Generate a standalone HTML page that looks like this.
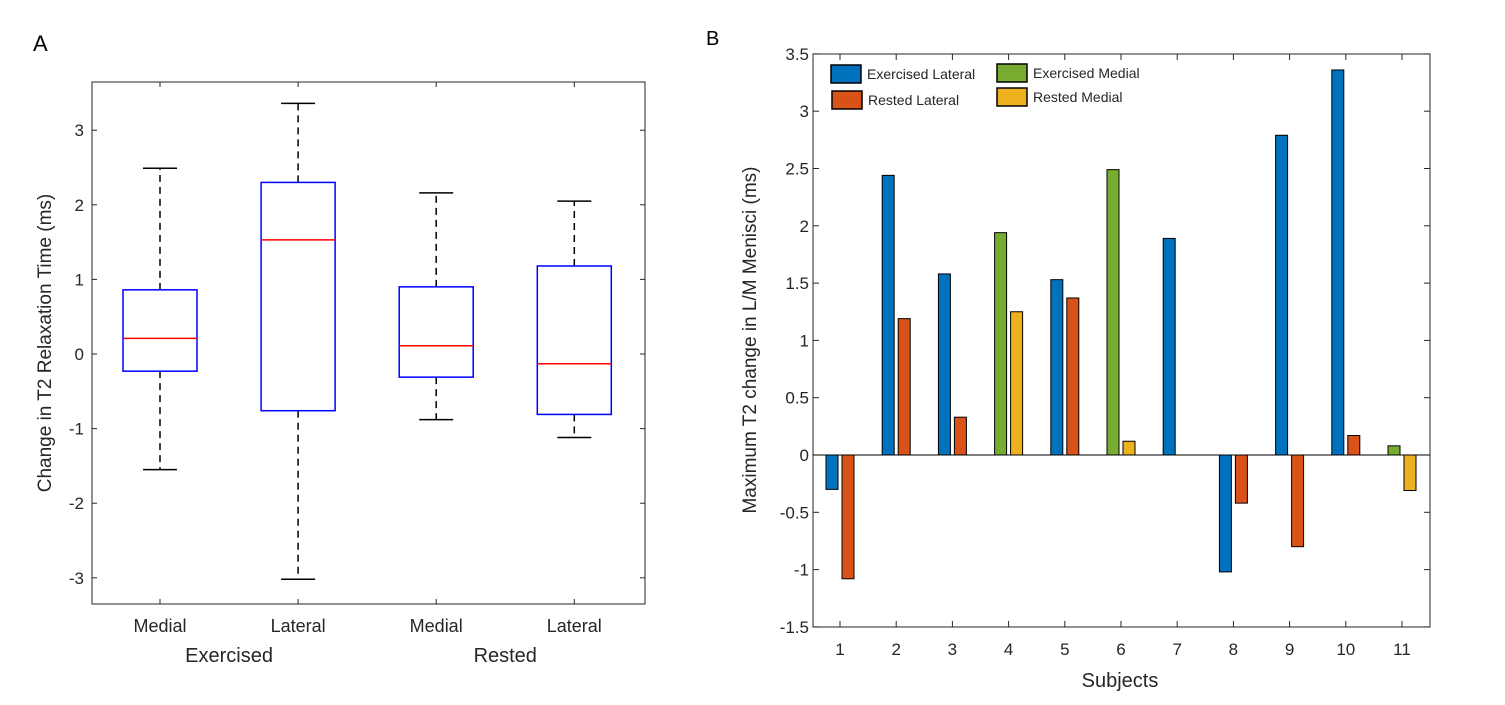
<!DOCTYPE html>
<html><head><meta charset="utf-8"><style>
body{margin:0;background:#fff;}
svg{display:block;font-family:"Liberation Sans",sans-serif;}
</style></head><body>
<svg id="s" width="1505" height="705">
<text x="33" y="51" font-size="22" fill="#000">A</text>
<text x="706" y="45" font-size="20" fill="#000">B</text>
<g id="ga"></g>
<g id="gb"></g>
</svg>
<script>
// Panel A data
const boxCats = ["Medial","Lateral","Medial","Lateral"];
const boxGroups = ["Exercised","Rested"];
const boxQ1 = [-0.23,-0.76,-0.31,-0.81];
const boxMed = [0.21,1.53,0.11,-0.13];
const boxQ3 = [0.86,2.30,0.90,1.18];
const boxLo = [-1.55,-3.02,-0.88,-1.12];
const boxHi = [2.49,3.36,2.16,2.05];
const aTicks = [-3,-2,-1,0,1,2,3];
// Panel B data
const subjects = ["1","2","3","4","5","6","7","8","9","10","11"];
const exercisedVals = [-0.30,2.44,1.58,1.94,1.53,2.49,1.89,-1.02,2.79,3.36,0.08];
const exercisedType = ["L","L","L","M","L","M","L","L","L","L","M"];
const restedVals = [-1.08,1.19,0.33,1.25,1.37,0.12,0,-0.42,-0.80,0.17,-0.31];
const bTicks = [-1.5,-1,-0.5,0,0.5,1,1.5,2,2.5,3,3.5];
const NS="http://www.w3.org/2000/svg";
function mk(p,t,a,txt){const e=document.createElementNS(NS,t);for(const k in a)e.setAttribute(k,a[k]);if(txt!==undefined)e.textContent=txt;p.appendChild(e);return e;}
// ---- A ----
const ga=document.getElementById('ga');
const AL=92,AR=645,AT=82,AB=604;
const ay=v=>354-v*74.6;
const ax=i=>160+i*138.1;
let r=mk(ga,'rect',{x:AL,y:AT,width:AR-AL,height:AB-AT,fill:'none',stroke:'#262626','stroke-width':1});

aTicks.forEach(t=>{const y=ay(t);
 mk(ga,'line',{x1:AL,x2:AL+5,y1:y,y2:y,stroke:'#262626'});mk(ga,'line',{x1:AR,x2:AR-5,y1:y,y2:y,stroke:'#262626'});
 const e=mk(ga,'text',{x:AL-8,y:y+6,'text-anchor':'end','font-size':17,fill:'#262626'},String(t));
 });
boxCats.forEach((c,i)=>{const x=ax(i);
 mk(ga,'line',{x1:x,x2:x,y1:AB,y2:AB-5,stroke:'#262626'});mk(ga,'line',{x1:x,x2:x,y1:AT,y2:AT+5,stroke:'#262626'});
 const e=mk(ga,'text',{x:x,y:632,'text-anchor':'middle','font-size':18,fill:'#262626'},c);
 
 const g=mk(ga,'g',{});
 mk(g,'line',{x1:x,x2:x,y1:ay(boxQ3[i]),y2:ay(boxHi[i]),stroke:'#000','stroke-width':1.5,'stroke-dasharray':'7,5'});
 mk(g,'line',{x1:x,x2:x,y1:ay(boxQ1[i]),y2:ay(boxLo[i]),stroke:'#000','stroke-width':1.5,'stroke-dasharray':'7,5'});
 mk(g,'line',{x1:x-17,x2:x+17,y1:ay(boxHi[i]),y2:ay(boxHi[i]),stroke:'#000','stroke-width':1.5});
 mk(g,'line',{x1:x-17,x2:x+17,y1:ay(boxLo[i]),y2:ay(boxLo[i]),stroke:'#000','stroke-width':1.5});
 mk(g,'rect',{x:x-37,y:ay(boxQ3[i]),width:74,height:ay(boxQ1[i])-ay(boxQ3[i]),fill:'none',stroke:'#0000ff','stroke-width':1.5});
 mk(g,'line',{x1:x-37,x2:x+37,y1:ay(boxMed[i]),y2:ay(boxMed[i]),stroke:'#ff0000','stroke-width':1.5});
});
boxGroups.forEach((g,j)=>{const e=mk(ga,'text',{x:(ax(2*j)+ax(2*j+1))/2,y:662,'text-anchor':'middle','font-size':20,fill:'#262626'},g);
 });
let t=mk(ga,'text',{transform:'translate(51,343) rotate(-90)','text-anchor':'middle','font-size':19,fill:'#262626'},'Change in T2 Relaxation Time (ms)');

// ---- B ----
const gb=document.getElementById('gb');
const BL=813,BR=1430,BT=54,BB=627;
const by=v=>455-v*114.6;
const bx=i=>840+i*56.2;
r=mk(gb,'rect',{x:BL,y:BT,width:BR-BL,height:BB-BT,fill:'none',stroke:'#262626','stroke-width':1});

bTicks.forEach(v=>{const y=by(v);
 mk(gb,'line',{x1:BL,x2:BL+6,y1:y,y2:y,stroke:'#262626'});mk(gb,'line',{x1:BR,x2:BR-6,y1:y,y2:y,stroke:'#262626'});
 const e=mk(gb,'text',{x:BL-4,y:y+6,'text-anchor':'end','font-size':17,fill:'#262626'},String(v));
 });
mk(gb,'line',{x1:BL,x2:BR,y1:by(0),y2:by(0),stroke:'#000','stroke-width':1});
const col={L:'#0072bd',M:'#77ac30',RL:'#d95319',RM:'#edb120'};
subjects.forEach((s,i)=>{const x=bx(i);
 mk(gb,'line',{x1:x,x2:x,y1:BB,y2:BB-6,stroke:'#262626'});mk(gb,'line',{x1:x,x2:x,y1:BT,y2:BT+6,stroke:'#262626'});
 const e=mk(gb,'text',{x:x,y:655,'text-anchor':'middle','font-size':17,fill:'#262626'},s);
 
 const v1=exercisedVals[i];
 const b1=mk(gb,'rect',{x:x-14,y:Math.min(by(0),by(v1)),width:12,height:Math.abs(by(v1)-by(0)),fill:col[exercisedType[i]],stroke:'#000','stroke-width':1});
 
 const v2=restedVals[i];
 if(v2!==0){const b2=mk(gb,'rect',{x:x+2,y:Math.min(by(0),by(v2)),width:12,height:Math.abs(by(v2)-by(0)),fill:exercisedType[i]==='L'?col.RL:col.RM,stroke:'#000','stroke-width':1});
 }
});
t=mk(gb,'text',{x:1120,y:687,'text-anchor':'middle','font-size':20,fill:'#262626'},'Subjects');

t=mk(gb,'text',{transform:'translate(756,340) rotate(-90)','text-anchor':'middle','font-size':19,fill:'#262626'},'Maximum T2 change in L/M Menisci (ms)');

const leg=[["Exercised Lateral",col.L,831,65],["Rested Lateral",col.RL,832,91],["Exercised Medial",col.M,997,64],["Rested Medial",col.RM,997,88]];
leg.forEach(l=>{const g=mk(gb,'g',{});
 mk(g,'rect',{x:l[2],y:l[3],width:30,height:18,fill:l[1],stroke:'#000','stroke-width':1.5});
 mk(g,'text',{x:l[2]+36,y:l[3]+14,'font-size':14,fill:'#262626'},l[0]);});
</script>
</body></html>
